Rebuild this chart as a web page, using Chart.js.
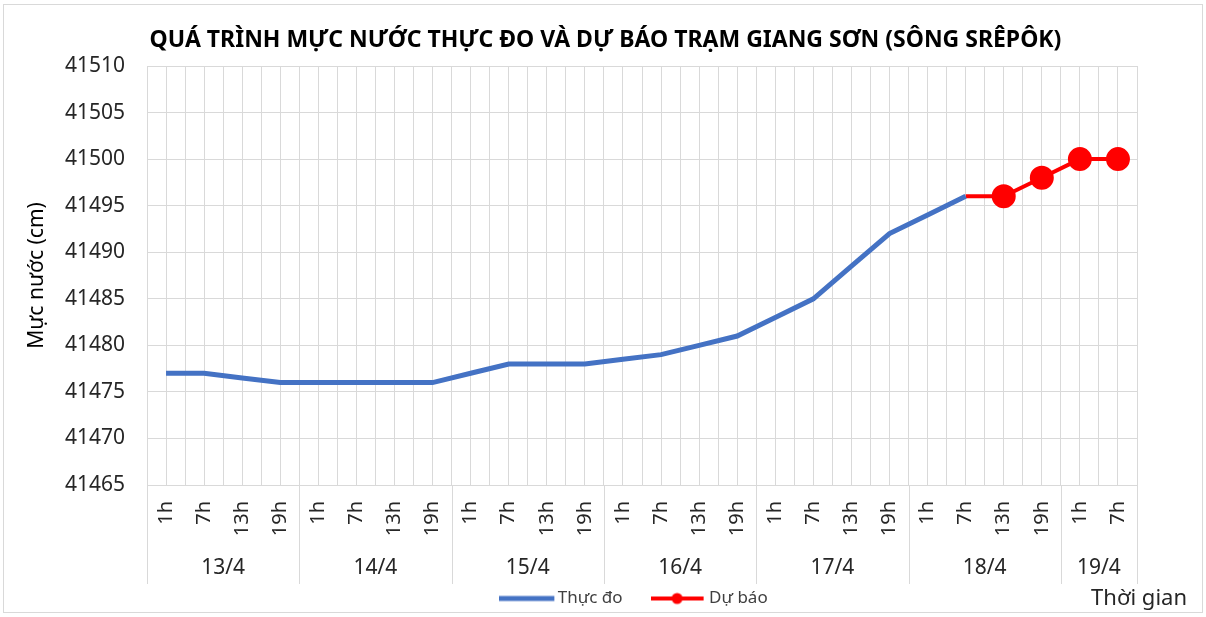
<!DOCTYPE html>
<html>
<head>
<meta charset="utf-8">
<script src="https://cdn.jsdelivr.net/npm/chart.js@4.4.1/dist/chart.umd.min.js"></script>
<style>
  html, body { margin: 0; padding: 0; background: #fff; }
  #wrap { width: 1206px; height: 617px; position: relative; }
</style>
</head>
<body>
<div id="wrap"><canvas id="waterChart"></canvas></div>
<script>
// nhãn giờ trên trục hoành
var hours = ['1h', '7h', '13h', '19h', '1h', '7h', '13h', '19h', '1h', '7h', '13h', '19h',
             '1h', '7h', '13h', '19h', '1h', '7h', '13h', '19h', '1h', '7h', '13h', '19h',
             '1h', '7h'];
var days = ['13/4', '14/4', '15/4', '16/4', '17/4', '18/4', '19/4'];
var dayCounts = [4, 4, 4, 4, 4, 4, 2];

// mực nước (cm)
var thucDo = [41477, 41477, 41476.5, 41476, 41476, 41476, 41476, 41476,
              41477, 41478, 41478, 41478, 41478.5, 41479, 41480, 41481,
              41483, 41485, 41488.5, 41492, 41494, 41496, null, null, null, null];
var duBao = [null, null, null, null, null, null, null, null, null, null, null, null, null,
             null, null, null, null, null, null, null, null, 41496, 41496, 41498, 41500, 41500];

var yTicks = { min: 41465, max: 41510, step: 5 };

var FONT = '"Noto Sans", sans-serif';
var TEXT = '#262626';
var GRID = '#d9d9d9';
var AXIS_H = 99;   // chiều cao khối nhãn trục hoành (giờ + ngày)

// biểu tượng chú thích: đoạn thẳng (có chấm cho dự báo)
function legendIcon(color, width, len, dot) {
    var c = document.createElement('canvas');
    c.width = 67; c.height = 14;
    var g = c.getContext('2d');
    g.strokeStyle = color;
    g.lineWidth = width;
    g.beginPath(); g.moveTo(0, 7); g.lineTo(len, 7); g.stroke();
    if (dot) {
        g.fillStyle = color;
        g.beginPath(); g.arc(len / 2, 7, 5.5, 0, Math.PI * 2); g.fill();
    }
    return c;
}
var icons = [legendIcon('#4472c4', 5, 55, false), legendIcon('#ff0000', 4, 53, true)];

// nhóm ngày, đường phân cách và chú thích trục thời gian
var groupPlugin = {
    id: 'groups',
    afterDraw: function (chart) {
        var ctx = chart.ctx, x = chart.scales.x, area = chart.chartArea;
        var half = (x.getPixelForValue(1) - x.getPixelForValue(0)) / 2;
        var bottom = area.bottom + AXIS_H;
        ctx.save();
        ctx.strokeStyle = GRID;
        ctx.lineWidth = 1;
        ctx.font = '21px ' + FONT;
        ctx.fillStyle = TEXT;
        ctx.textAlign = 'center';
        ctx.textBaseline = 'middle';
        var start = 0;
        for (var i = 0; i < days.length; i++) {
            var end = start + dayCounts[i] - 1;
            var left = Math.round(x.getPixelForValue(start) - half) + 0.5;
            ctx.beginPath(); ctx.moveTo(left, area.bottom); ctx.lineTo(left, bottom); ctx.stroke();
            ctx.fillText(days[i], (x.getPixelForValue(start) + x.getPixelForValue(end)) / 2, bottom - 16);
            start = end + 1;
        }
        var right = Math.round(area.right) + 0.5;
        ctx.beginPath(); ctx.moveTo(right, area.bottom); ctx.lineTo(right, bottom); ctx.stroke();

        ctx.font = '22px ' + FONT;
        ctx.textAlign = 'right';
        ctx.fillText('Thời gian', 1187, 599);

        ctx.strokeRect(3.5, 4.5, 1199, 608);
        ctx.restore();
    }
};

new Chart(document.getElementById('waterChart').getContext('2d'), {
    type: 'line',
    data: {
        labels: hours,
        datasets: [{
            label: 'Thực đo',
            data: thucDo,
            borderColor: '#4472c4',
            backgroundColor: '#4472c4',
            borderWidth: 5,
            pointRadius: 0,
            tension: 0
        }, {
            label: 'Dự báo',
            data: duBao,
            borderColor: '#ff0000',
            backgroundColor: '#ff0000',
            borderWidth: 4,
            pointRadius: duBao.map(function (v, i) { return i === 21 ? 0 : 10; }),
            pointHoverRadius: 10,
            tension: 0
        }]
    },
    options: {
        responsive: true,
        maintainAspectRatio: false,
        animation: false,
        layout: { padding: { left: 5, right: 0, top: 0, bottom: 0 } },
        plugins: {
            title: {
                display: true,
                text: 'QUÁ TRÌNH MỰC NƯỚC THỰC ĐO VÀ DỰ BÁO TRẠM GIANG SƠN (SÔNG SRÊPÔK)',
                color: '#000',
                font: { family: FONT, size: 23, weight: 'bold', lineHeight: 1.2 },
                padding: { top: 27, bottom: 11.4 }
            },
            legend: {
                position: 'bottom',
                fullSize: false,
                labels: {
                    usePointStyle: true,
                    pointStyleWidth: 33,
                    padding: 45,
                    color: '#404040',
                    font: { family: FONT, size: 17 },
                    generateLabels: function (chart) {
                        var items = Chart.defaults.plugins.legend.labels.generateLabels(chart);
                        items.forEach(function (it, i) { it.pointStyle = icons[i]; });
                        return items;
                    }
                }
            },
            tooltip: { enabled: false }
        },
        scales: {
            x: {
                type: 'category',
                offset: true,
                grid: { color: GRID, offset: true, drawTicks: false },
                border: { color: GRID },
                ticks: {
                    autoSkip: false,
                    minRotation: 90,
                    maxRotation: 90,
                    padding: 16,
                    color: TEXT,
                    font: { family: FONT, size: 20 }
                },
                afterFit: function (s) { s.height = 60; }
            },
            x2: {
                type: 'category',
                labels: hours,
                offset: true,
                position: 'bottom',
                grid: { color: GRID, offset: false, drawTicks: false },
                border: { display: false },
                ticks: { display: false },
                afterFit: function (s) { s.height = 0; }
            },
            y: {
                min: yTicks.min,
                max: yTicks.max,
                grid: { color: GRID, drawTicks: false },
                border: { color: GRID },
                ticks: {
                    stepSize: yTicks.step,
                    padding: 22,
                    color: TEXT,
                    font: { family: FONT, size: 21 },
                    callback: function (v) { return String(v); }
                },
                title: {
                    display: true,
                    text: 'Mực nước (cm)',
                    color: '#000',
                    font: { family: FONT, size: 21 },
                    padding: { top: 19, bottom: 0 }
                },
                afterFit: function (s) { s.width = 142; }
            },
            yRight: {
                position: 'right',
                display: true,
                grid: { display: false, drawTicks: false },
                border: { display: false },
                ticks: { display: false },
                afterFit: function (s) { s.width = 69; }
            }
        }
    },
    plugins: [groupPlugin]
});
</script>
</body>
</html>
